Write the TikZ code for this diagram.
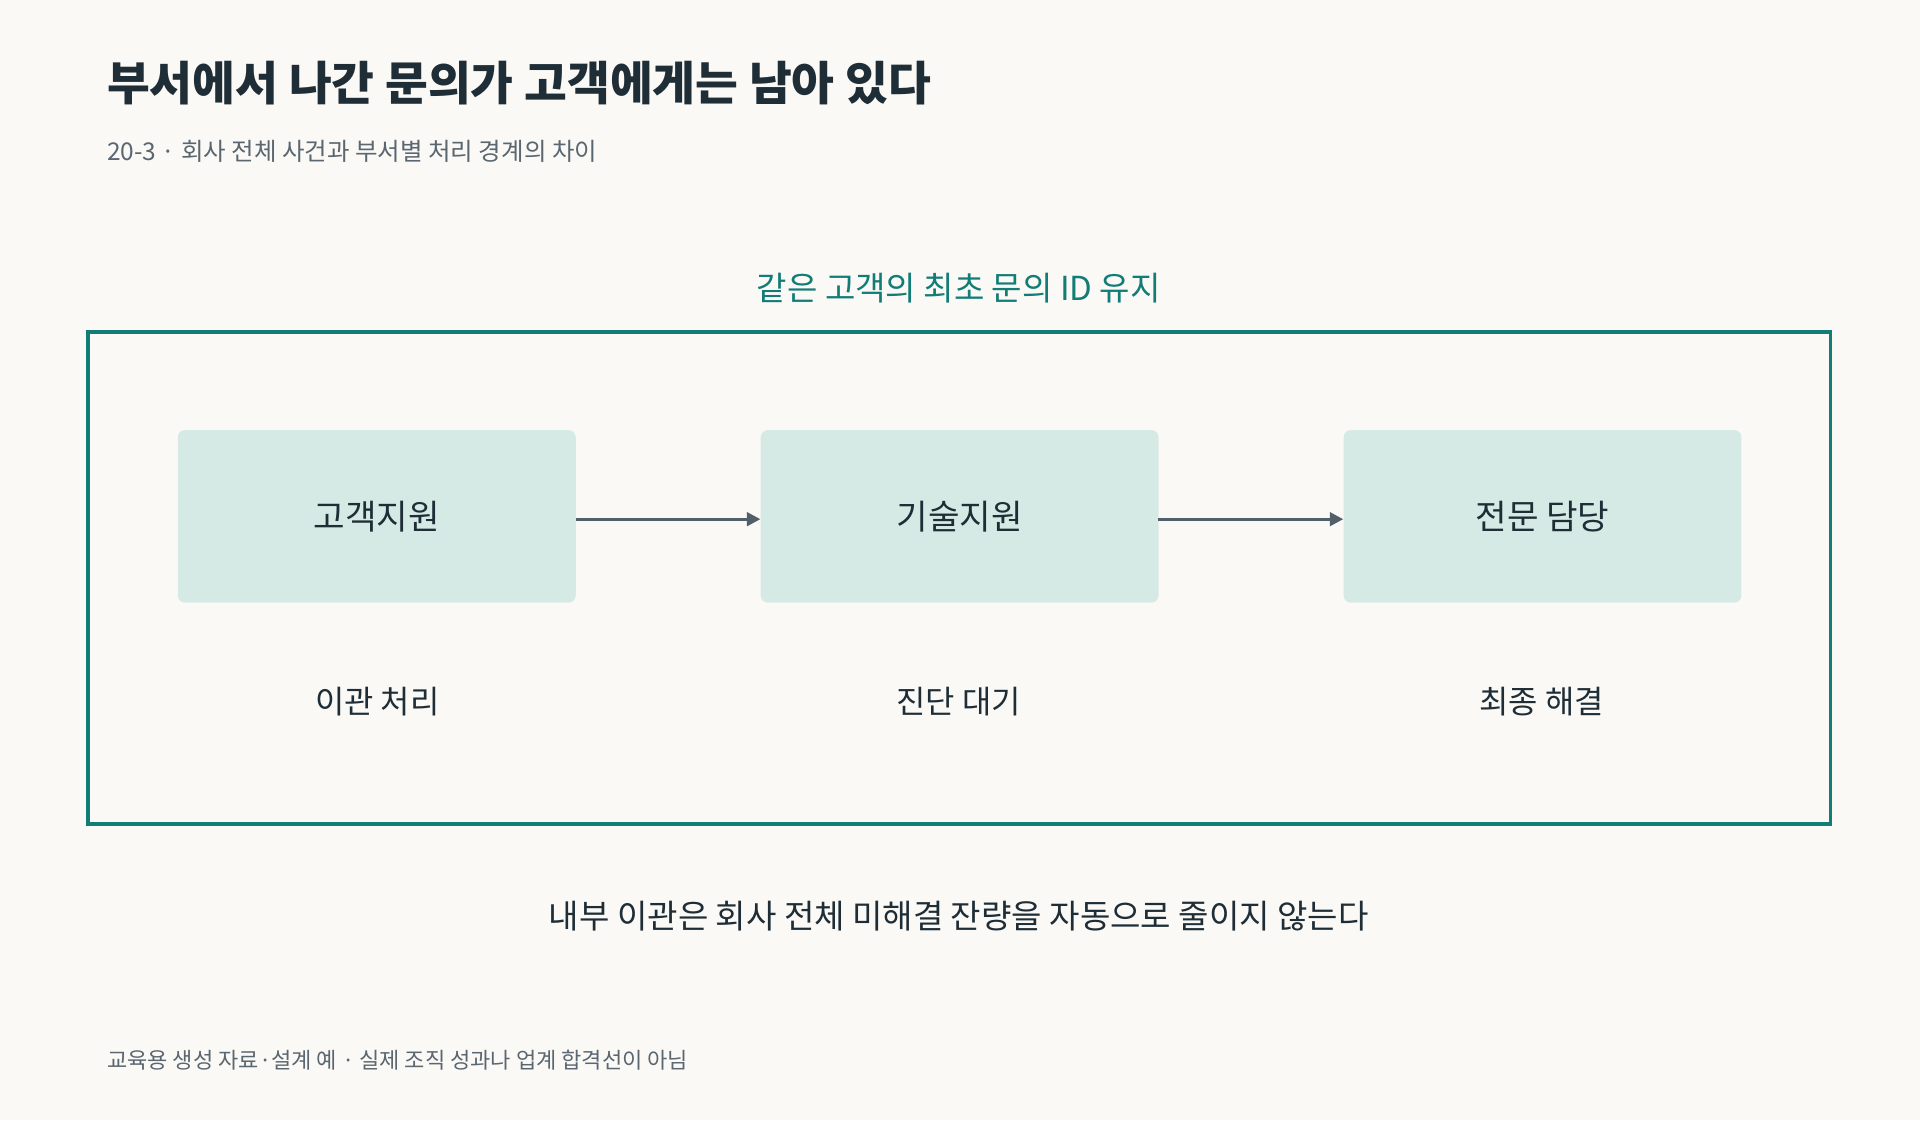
\documentclass[tikz,border=0pt]{standalone}
\usepackage{fontspec}
\setmainfont{Noto Sans CJK KR}
\usetikzlibrary{arrows.meta}
\definecolor{bg}{HTML}{FBF9F6}
\definecolor{teal}{HTML}{127C76}
\definecolor{boxf}{HTML}{D6EAE5}
\definecolor{ink}{HTML}{1E2D36}
\definecolor{arr}{HTML}{505F68}
\definecolor{sub}{HTML}{5A6670}
\begin{document}
\begin{tikzpicture}[x=1pt,y=-1pt,
 stage/.style={fill=boxf,rounded corners=6pt,minimum width=325pt,minimum height=141pt,anchor=north west,font=\fontsize{28}{32}\selectfont,text=ink,inner sep=0},
 lab/.style={font=\fontsize{26}{30}\selectfont,text=ink},
 flow/.style={draw=arr,line width=2.5pt,-{Triangle[length=11pt,width=11pt]}}]
\fill[bg] (0,0) rectangle (1568,915);
\useasboundingbox (0,0) rectangle (1568,915);
\node[anchor=west,font=\fontsize{38}{44}\selectfont\bfseries,text=ink] (t) at (84,68) {부서에서 나간 문의가 고객에게는 남아 있다};
\node[anchor=west,font=\fontsize{20}{24}\selectfont,text=sub] (s) at (84,124) {20-3 · 회사 전체 사건과 부서별 처리 경계의 차이};
\node[font=\fontsize{27}{32}\selectfont,text=teal] (fl) at (783,235) {같은 고객의 최초 문의 ID 유지};
\draw[teal,line width=3pt] (72,271) rectangle (1495,673);
\node[stage] (a) at (145,351) {};
\node[lab,font=\fontsize{28}{32}\selectfont] at (a.center) {고객지원};
\node[stage] (b) at (621,351) {};
\node[lab,font=\fontsize{28}{32}\selectfont] at (b.center) {기술지원};
\node[stage] (c) at (1097,351) {};
\node[lab,font=\fontsize{28}{32}\selectfont] at (c.center) {전문 담당};
\coordinate (a1) at (470,424); \coordinate (b0) at (621,424);
\coordinate (b1) at (946,424); \coordinate (c0) at (1097,424);
\draw[flow] (a1) -- (b0);
\draw[flow] (b1) -- (c0);
\node[lab] (la) at (308,573) {이관 처리};
\node[lab] (lb) at (783,573) {진단 대기};
\node[lab] (lc) at (1259,573) {최종 해결};
\node[lab,font=\fontsize{27}{32}\selectfont] (m) at (783,748) {내부 이관은 회사 전체 미해결 잔량을 자동으로 줄이지 않는다};
\node[anchor=west,font=\fontsize{18}{22}\selectfont,text=sub] (f) at (84,866) {교육용 생성 자료·설계 예 · 실제 조직 성과나 업계 합격선이 아님};
\end{tikzpicture}
\end{document}
